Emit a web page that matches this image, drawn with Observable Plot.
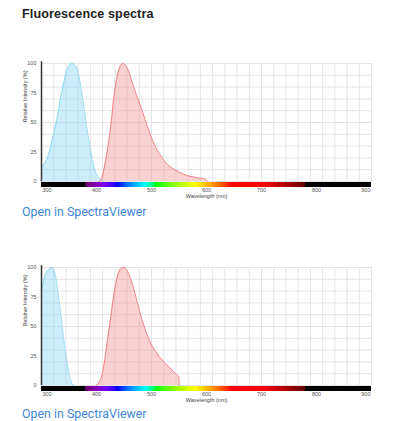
<!DOCTYPE html>
<html>
<head>
<meta charset="utf-8">
<script src="https://cdn.jsdelivr.net/npm/d3@7"></script>
<script src="https://cdn.jsdelivr.net/npm/@observablehq/plot@0.6"></script>
<style>
  body { margin: 0; background: #fff; }
  #root { position: relative; width: 395px; height: 421px; overflow: hidden; }
  .title { position: absolute; left: 22px; top: 7px; font: bold 12.6px "Liberation Sans", Arial, sans-serif; color: #222; letter-spacing: 0.1px; }
  .link { position: absolute; left: 22px; font: 12.4px Roboto, "Liberation Sans", sans-serif; color: #3d86d9; text-decoration: none; line-height: 14px; }
  .chart { position: absolute; left: 0; }
</style>
</head>
<body>
<div id="root">
  <div class="title">Fluorescence spectra</div>
  <div class="chart" id="c1" style="top:50px"></div>
  <a class="link" href="#" style="top:205px">Open in SpectraViewer</a>
  <div class="chart" id="c2" style="top:254px"></div>
  <a class="link" href="#" style="top:407px">Open in SpectraViewer</a>
</div>
<script>
// Chart 1 excitation (blue) and emission (red)
const ex1Nm  = [300, 310, 319, 328, 337, 346, 355, 364, 373, 382, 391, 400, 410, 415];
const ex1Val = [13, 19, 34, 53, 76, 94, 100, 96, 76, 47, 22, 6, 1, 0];
const em1Nm  = [405, 408, 417, 426, 432, 438, 444, 449, 456, 465, 474, 484, 493, 505, 517, 529, 547, 565, 584, 599, 601];
const em1Val = [0, 1, 19, 47, 73, 90, 98.5, 100, 96, 84, 71.5, 58.7, 46, 31.6, 21.6, 14.5, 8.8, 5, 3.2, 1.7, 0];
// Chart 2
const ex2Nm  = [300, 306, 313, 319, 325, 331, 337, 343, 349, 355, 359];
const ex2Val = [80, 92.6, 98, 100, 94, 75.5, 52.7, 30, 12.8, 2, 0];
const em2Nm  = [399, 408, 414, 420, 426, 432, 438, 444, 450, 456, 465.5, 474.5, 484, 496, 508, 520, 532, 544, 550, 550.3];
const em2Val = [0, 5.7, 18.5, 38.5, 58.5, 78.4, 92.6, 98.9, 100, 97, 85.5, 69.8, 54, 38.5, 28.5, 21.4, 15.7, 10, 7, 0];

const xTicks = [300, 400, 500, 600, 700, 800, 900];
const yTicks = [0, 25, 50, 75, 100];
const xDomain = [300, 900];
const yDomain = [0, 100];

// wavelength -> visible colour (Bruton approximation), for the colour bar
function waveColor(w) {
  let r = 0, g = 0, b = 0;
  if (w >= 380 && w < 440) { r = -(w - 440) / 60; b = 1; }
  else if (w >= 440 && w < 490) { g = (w - 440) / 50; b = 1; }
  else if (w >= 490 && w < 510) { g = 1; b = -(w - 510) / 20; }
  else if (w >= 510 && w < 580) { r = (w - 510) / 70; g = 1; }
  else if (w >= 580 && w < 645) { r = 1; g = -(w - 645) / 65; }
  else if (w >= 645 && w <= 780) { r = 1; }
  let f = 0;
  if (w >= 380 && w < 420) f = 0.3 + 0.7 * (w - 380) / 40;
  else if (w >= 420 && w <= 700) f = 1;
  else if (w > 700 && w <= 780) f = 0.3 + 0.7 * (780 - w) / 80;
  const adj = c => c === 0 ? 0 : Math.round(255 * Math.pow(c * f, 0.8));
  return `rgb(${adj(r)},${adj(g)},${adj(b)})`;
}
const spectrum = d3.range(300, 900, 1).map(w => ({w, c: waveColor(w + 0.5)}));

const gridX = d3.range(0, 28).map(i => 300 + i * 600 / 27);
const gridY = d3.range(0, 110, 10);

const FONT = '"Liberation Sans", Arial, sans-serif';

function makeChart(exNm, exVal, emNm, emVal) {
  const ex = exNm.map((x, i) => ({x, y: exVal[i]}));
  const em = emNm.map((x, i) => ({x, y: emVal[i]}));
  const curve = "monotone-x";
  return Plot.plot({
    width: 395,
    height: 155,
    marginLeft: 41,
    marginRight: 24,
    marginTop: 13,
    marginBottom: 24,
    x: {domain: xDomain, axis: null},
    y: {domain: yDomain, axis: null},
    color: {type: "identity"},
    style: {fontFamily: FONT, fontSize: "5.5px", color: "#555", background: "transparent"},
    marks: [
      Plot.ruleX(gridX, {y1: 0, y2: 100, stroke: "#e4e4e4", strokeWidth: 1}),
      Plot.ruleY(gridY, {x1: 300, x2: 900, stroke: "#e4e4e4", strokeWidth: 1}),
      Plot.areaY(ex, {x: "x", y: "y", fill: "#8fd6f5", fillOpacity: 0.45, curve}),
      Plot.areaY(em, {x: "x", y: "y", fill: "#f59a9a", fillOpacity: 0.45, curve}),
      Plot.lineY(ex, {x: "x", y: "y", stroke: "#7fd2f2", strokeWidth: 1, strokeDasharray: "1,1.2", curve}),
      Plot.lineY(em, {x: "x", y: "y", stroke: "#f08484", strokeWidth: 1, curve}),
      Plot.rect(spectrum, {x1: "w", x2: d => d.w + 1, y1: -0.6, y2: -4.9, fill: "c", shapeRendering: "crispEdges"}),
      Plot.ruleX([300], {y1: 0, y2: 101.5, stroke: "#333", strokeWidth: 1.5}),
      Plot.text(yTicks, {x: 300, y: d => d, text: d => String(d), textAnchor: "end", dx: -5, fill: "#555"}),
      Plot.text(xTicks.filter(d => d === 300), {x: d => d, frameAnchor: "bottom", dy: 10, text: d => String(d), textAnchor: "start", dx: 1, fill: "#555"}),
      Plot.text(xTicks.filter(d => d > 300 && d < 900), {x: d => d, frameAnchor: "bottom", dy: 10, text: d => String(d), textAnchor: "middle", fill: "#555"}),
      Plot.text(xTicks.filter(d => d === 900), {x: d => d, frameAnchor: "bottom", dy: 10, text: d => String(d), textAnchor: "end", dx: -1, fill: "#555"}),
      Plot.text(["Wavelength (nm)"], {frameAnchor: "bottom", dy: 16.5, text: d => d, fill: "#444"}),
      Plot.text(["Relative Intensity (%)"], {frameAnchor: "left", dx: -16, rotate: -90, text: d => d, fill: "#444"})
    ]
  });
}

document.getElementById("c1").appendChild(makeChart(ex1Nm, ex1Val, em1Nm, em1Val));
document.getElementById("c2").appendChild(makeChart(ex2Nm, ex2Val, em2Nm, em2Val));
</script>
</body>
</html>
